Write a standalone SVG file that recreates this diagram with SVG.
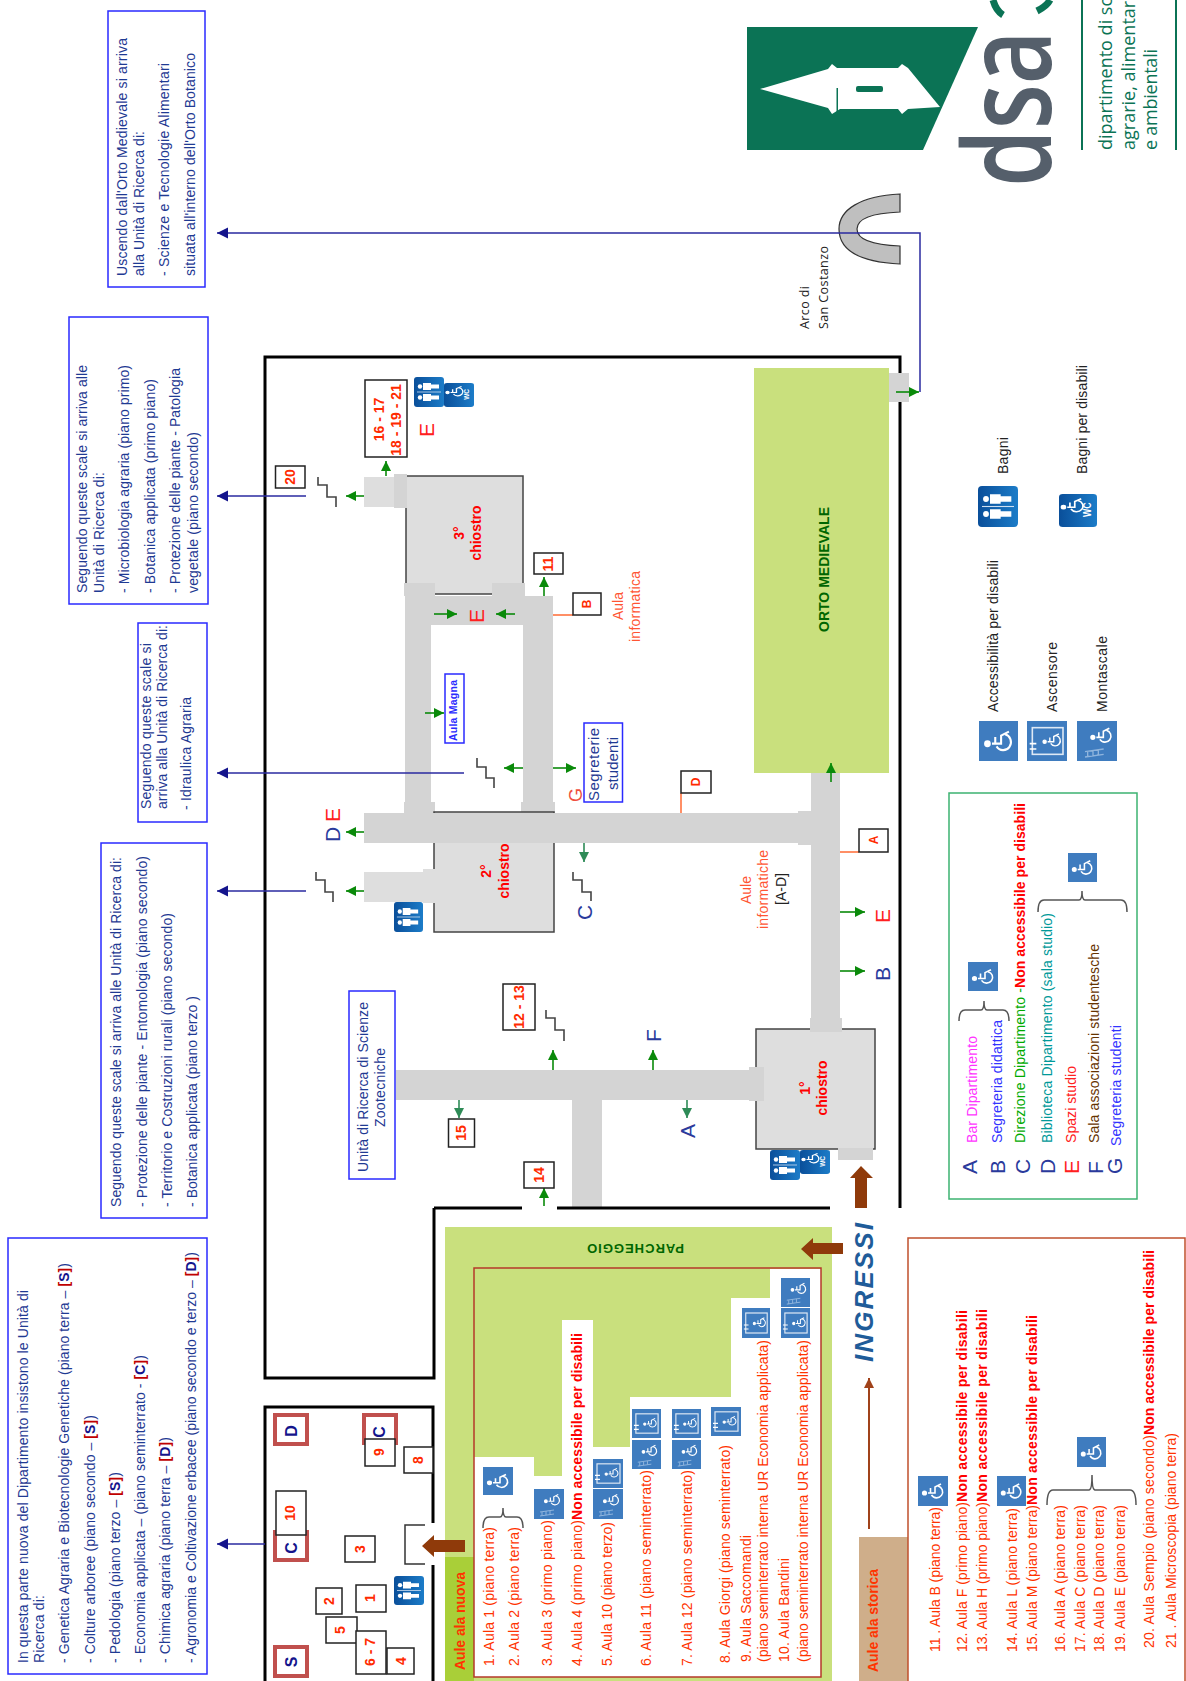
<svg xmlns="http://www.w3.org/2000/svg" xmlns:xlink="http://www.w3.org/1999/xlink" width="1186" height="1681" viewBox="0 0 1186 1681">
<style>
text{font-family:"Liberation Sans",Arial,sans-serif;font-size:14px;fill:#1f3a93}
.r{fill:#ff3300}.rb{fill:#ff0000;font-weight:bold}
.n{fill:#ff2a00;font-weight:bold;font-size:14px;text-anchor:middle}
.k{fill:#222}.L{font-size:21px;fill:#2a3a9c}.Lr{font-size:21px;fill:#ff2020}
.ch{fill:#ff0000;font-weight:bold;font-size:14px;text-anchor:middle}
.nv{fill:#14148c;font-weight:bold;font-size:16px;text-anchor:middle}
.wall{fill:none;stroke:#000;stroke-width:3}
.cor{fill:#d4d4d4}.lt{fill:#dedede}
.cl{fill:#dedede;stroke:#444;stroke-width:1.5}
.box{fill:#fff;stroke:#222;stroke-width:1.5}
.bb{fill:#fff;stroke:#2a2aff;stroke-width:1.5}
.rbx{fill:#fff;stroke:#c0504d;stroke-width:4}
.g{fill:none;stroke:#0a8a0a;stroke-width:1.6;marker-end:url(#mg)}
.t{fill:none;stroke:#2e8b57;stroke-width:1.6;marker-end:url(#mt)}
.nvl{fill:none;stroke:#2a2aa0;stroke-width:1.5;marker-end:url(#mn)}
.st{fill:none;stroke:#444;stroke-width:1.6}
.or{fill:none;stroke:#ff6a33;stroke-width:1.5}
.br{fill:none;stroke:#555;stroke-width:1.5}
.bar{fill:#8f3a0a}
.lg{fill:#0b7355}
.lt19{font-family:"Open Sans",sans-serif;font-size:18px;fill:#0b7355}
</style>
<defs>
<marker id="mg" markerUnits="userSpaceOnUse" markerWidth="12" markerHeight="12" refX="10" refY="6" orient="auto"><path d="M0,1 L10,6 L0,11 Z" fill="#0a8a0a"/></marker>
<marker id="mt" markerUnits="userSpaceOnUse" markerWidth="12" markerHeight="12" refX="10" refY="6" orient="auto"><path d="M0,1 L10,6 L0,11 Z" fill="#2e8b57"/></marker>
<marker id="mn" markerUnits="userSpaceOnUse" markerWidth="12" markerHeight="12" refX="11" refY="6" orient="auto"><path d="M0,0.5 L11,6 L0,11.5 Z" fill="#14148c"/></marker>
<marker id="mb" markerUnits="userSpaceOnUse" markerWidth="12" markerHeight="12" refX="10" refY="6" orient="auto"><path d="M0,1 L10,6 L0,11 Z" fill="#a0421a"/></marker>
<linearGradient id="bl" x1="0" y1="0" x2="1" y2="0"><stop offset="0" stop-color="#0a4f9a"/><stop offset="1" stop-color="#1c7cc8"/></linearGradient>
<g id="wh" fill="none" stroke="#fff" stroke-width="1.6"><circle cx="13" cy="6.5" r="1.8" fill="#fff"/><path d="M13,10 V17 H19 L22,23 M13,12.5 H18"/><path d="M11,13.5 A6,6 0 1 0 20,20"/></g>
<symbol id="iw" viewBox="0 0 30 30" preserveAspectRatio="none"><rect width="30" height="30" fill="#3f7cbf"/><g transform="rotate(-90 15 15)"><use xlink:href="#wh" href="#wh"/></g></symbol>
<symbol id="ia" viewBox="0 0 30 30" preserveAspectRatio="none"><rect width="30" height="30" fill="#3f7cbf"/><g transform="rotate(-90 15 15)"><rect x="5" y="4" width="20" height="23" fill="none" stroke="#dfe9f5" stroke-width="1.2"/><g transform="translate(6,9) scale(.65)"><use xlink:href="#wh" href="#wh"/></g><path d="M9,2 V7 M13,2 V7" stroke="#fff" stroke-width="1.2"/></g></symbol>
<symbol id="im" viewBox="0 0 30 30" preserveAspectRatio="none"><rect width="30" height="30" fill="#3f7cbf"/><g transform="rotate(-90 15 15)"><g transform="translate(8,7) scale(.75)"><use xlink:href="#wh" href="#wh"/></g><path d="M5,20 L3,6 M9,20 L7,6 M3,8 H7 M4,12 H8 M4.5,16 H8.5" stroke="#8fb4dd" stroke-width="1" fill="none"/></g></symbol>
<symbol id="ib" viewBox="0 0 30 30" preserveAspectRatio="none"><rect width="30" height="30" rx="3" fill="url(#bl)"/><g fill="#fff"><circle cx="6" cy="9.5" r="2.2"/><path d="M9,6 H17 V7.5 H25 V11.5 H17 V13 H9 Z"/><circle cx="6" cy="20.5" r="2.2"/><path d="M9,17 H17 V18.5 H25 V22.5 H17 V24 H9 Z"/></g><path d="M3,15 H27" stroke="#cfe0f2" stroke-width=".8"/></symbol>
<symbol id="id" viewBox="0 0 30 30" preserveAspectRatio="none"><rect width="30" height="30" rx="3" fill="url(#bl)"/><g transform="rotate(-90 15 15) translate(7,-2) scale(.85)"><use xlink:href="#wh" href="#wh"/></g><text transform="translate(25,21) rotate(-90)" style="fill:#fff;font-size:8px;font-weight:bold">WC</text></symbol>
</defs>
<rect width="1186" height="1681" fill="#fff"/>

<g id="logo">
<polygon class="lg" points="747,27 978,27 923,150 747,150"/>
<polygon fill="#fff" points="760,89 828,69 832,64 837,68 898,68 902,64 908,68 940,107 908,109 902,114 898,109 840,109 832,114 828,108"/>
<rect class="lg" x="856" y="86" width="27" height="6" rx="2"/>
<rect class="lg" x="836.5" y="88" width="1.5" height="24"/>
<text transform="translate(1051,187) rotate(-90) scale(.76,1)" style="font-family:'Open Sans',sans-serif;font-size:122px;fill:#555f6b;font-weight:600">dsa</text>
<path d="M993,0 C995,7 998,12 1003,15 M1037,11 C1043,8 1048,4 1050,0" fill="none" stroke="#0b7355" stroke-width="7"/>
<path d="M1082,0 V150 M1176,0 V150" stroke="#0b7355" stroke-width="2" fill="none"/>
<text class="lt19" transform="translate(1112,150) rotate(-90)">dipartimento di scienze</text>
<text class="lt19" transform="translate(1135,150) rotate(-90)">agrarie, alimentari</text>
<text class="lt19" transform="translate(1157,150) rotate(-90)" textLength="101">e ambientali</text>
</g>

<g id="orto">
<rect x="754" y="368" width="135" height="405" fill="#c9e07d"/>
<text transform="translate(829,632) rotate(-90)" textLength="125" style="fill:#006600;font-weight:bold;font-size:14px">ORTO MEDIEVALE</text>
</g>

<g id="corridors">
<rect class="cor" x="811" y="773" width="29" height="256"/>
<rect class="cor" x="810" y="1018" width="32" height="12"/>
<rect class="cor" x="364" y="813" width="447" height="30"/>
<rect class="cor" x="798" y="811" width="13" height="34"/>
<rect class="cor" x="405" y="583" width="26" height="230"/>
<rect class="cor" x="523" y="596" width="30" height="217"/>
<rect class="cor" x="405" y="596" width="148" height="29"/>
<rect class="cor" x="404" y="802" width="31" height="11"/>
<rect class="cor" x="521" y="802" width="34" height="11"/>
<rect class="cor" x="396" y="1070" width="360" height="30"/>
<rect class="cor" x="572" y="1100" width="30" height="108"/>
<rect class="cor" x="889" y="373" width="20" height="29"/>
<rect class="cor" x="838" y="1148" width="35" height="12"/>
<rect class="lt" x="364" y="477" width="30" height="30"/>
<rect class="lt" x="364" y="872" width="59" height="30"/>
</g>

<g id="chiostro-1"><rect class="cl" x="756" y="1029" width="119" height="120"/>
<rect class="cor" x="810" y="1025" width="32" height="7"/><rect class="cor" x="749" y="1067" width="15" height="34"/>
<text class="ch" transform="translate(810,1088) rotate(-90)">1°</text><text class="ch" transform="translate(827,1088) rotate(-90)">chiostro</text></g>
<g id="chiostro-2"><rect class="cl" x="434" y="812" width="120" height="120"/>
<rect class="cor" x="432" y="813" width="124" height="30"/>
<rect class="lt" x="423" y="869" width="15" height="34"/>
<text class="ch" transform="translate(491,871) rotate(-90)">2°</text><text class="ch" transform="translate(509,871) rotate(-90)">chiostro</text></g>
<g id="chiostro-3"><rect class="cl" x="406" y="476" width="117" height="118"/>
<rect class="cor" x="394" y="474" width="13" height="34"/>
<rect class="cor" x="404" y="583" width="31" height="13"/><rect class="cor" x="492" y="583" width="33" height="13"/>
<text class="ch" transform="translate(464,533) rotate(-90)">3°</text><text class="ch" transform="translate(481,533) rotate(-90)">chiostro</text></g>

<g id="walls">
<path class="wall" d="M434,1208 V1378 H265 V357 H900 V1208"/>
<path class="wall" d="M434,1208 H522 M557,1208 H830"/>
<path class="wall" d="M265,1681 V1407 H433 V1523 M433,1565 V1681"/>
<path d="M425,1525 H405 V1564 H425" fill="none" stroke="#333" stroke-width="1.5"/>
</g>
<rect class="cor" x="889" y="373" width="20" height="29"/>
<rect x="838" y="1148" width="35" height="12" class="cor"/>

<g id="parcheggio">
<path d="M445,1227 H832 V1681 H445 Z" fill="#c9e07d"/>
<rect x="445" y="1557" width="29" height="124" fill="#a9cf38"/>
<polygon fill="#fff" points="474,1457 534,1457 534,1476 562,1476 562,1320 593,1320 593,1447 630,1447 630,1397 731,1397 731,1298 770,1298 770,1269 821,1269 821,1677 474,1677"/>
<rect x="474" y="1268" width="347" height="409" fill="none" stroke="#b5392a" stroke-width="1.5"/>
<text transform="translate(684,1244) rotate(180)" textLength="97" style="fill:#006600;font-weight:bold;font-size:13px">PARCHEGGIO</text>
<text class="rb" transform="translate(465,1670) rotate(-90)" textLength="98" style="fill:#ff3300;font-size:14px">Aule ala nuova</text>
<g class="aule-n">
<text class="r" transform="translate(494,1666) rotate(-90)" textLength="139">1. Aula 1 (piano terra)</text>
<text class="r" transform="translate(519,1666) rotate(-90)" textLength="139">2. Aula 2 (piano terra)</text>
<text class="r" transform="translate(552,1666) rotate(-90)" textLength="146">3. Aula 3 (primo piano)</text>
<text class="r" transform="translate(582,1666) rotate(-90)" textLength="146">4. Aula 4 (primo piano)</text>
<text class="rb" transform="translate(582,1520) rotate(-90)" textLength="187">Non accessibile per disabili</text>
<text class="r" transform="translate(612,1666) rotate(-90)" textLength="144">5. Aula 10 (piano terzo)</text>
<text class="r" transform="translate(651,1666) rotate(-90)" textLength="196">6. Aula 11 (piano seminterrato)</text>
<text class="r" transform="translate(692,1666) rotate(-90)" textLength="196">7. Aula 12 (piano seminterrato)</text>
<text class="r" transform="translate(730,1663) rotate(-90)" textLength="218">8. Aula Giorgi (piano seminterrato)</text>
<text class="r" transform="translate(751,1662) rotate(-90)" textLength="127">9. Aula Saccomandi</text>
<text class="r" transform="translate(768,1662) rotate(-90)" textLength="322">(piano seminterrato interna UR Economia applicata)</text>
<text class="r" transform="translate(789,1662) rotate(-90)" textLength="104">10. Aula Bandini</text>
<text class="r" transform="translate(808,1662) rotate(-90)" textLength="322">(piano seminterrato interna UR Economia applicata)</text>
</g>
<use href="#iw" xlink:href="#iw" x="483" y="1467" width="30" height="28"/>
<path class="br" d="M483,1528 Q483,1517 489,1517 H500 Q503,1517 503,1508 Q503,1517 506,1517 H517 Q523,1517 523,1528"/>
<use href="#im" xlink:href="#im" x="534" y="1489" width="30" height="30"/>
<use href="#ia" xlink:href="#ia" x="593" y="1459" width="30" height="29"/>
<use href="#im" xlink:href="#im" x="593" y="1489" width="30" height="30"/>
<use href="#ia" xlink:href="#ia" x="632" y="1409" width="29" height="29"/>
<use href="#im" xlink:href="#im" x="632" y="1440" width="29" height="29"/>
<use href="#ia" xlink:href="#ia" x="672" y="1409" width="29" height="29"/>
<use href="#im" xlink:href="#im" x="672" y="1440" width="29" height="29"/>
<use href="#ia" xlink:href="#ia" x="711" y="1407" width="30" height="29"/>
<use href="#ia" xlink:href="#ia" x="742" y="1308" width="28" height="30"/>
<use href="#ia" xlink:href="#ia" x="781" y="1308" width="29" height="30"/>
<use href="#im" xlink:href="#im" x="781" y="1278" width="29" height="29"/>
</g>

<g id="aule-storica">
<rect x="859" y="1537" width="49" height="144" fill="#cfae8a"/>
<path d="M908,1681 V1238 H1185 V1681" fill="none" stroke="#c0502d" stroke-width="1.5"/>
<text class="rb" transform="translate(878,1672) rotate(-90)" textLength="103" style="fill:#ff3300;font-size:14px">Aule ala storica</text>
<text class="r" transform="translate(940,1652) rotate(-90)" textLength="145">11 . Aula B (piano terra)</text>
<text class="r" transform="translate(967,1652) rotate(-90)" textLength="150">12. Aula F (primo piano)</text>
<text class="rb" transform="translate(967,1502) rotate(-90)" textLength="192">Non accessibile per disabili</text>
<text class="r" transform="translate(987,1652) rotate(-90)" textLength="150">13. Aula H (primo piano)</text>
<text class="rb" transform="translate(987,1502) rotate(-90)" textLength="193">Non accessibile per disabili</text>
<text class="r" transform="translate(1017,1652) rotate(-90)" textLength="144">14. Aula L (piano terra)</text>
<text class="r" transform="translate(1037,1652) rotate(-90)" textLength="147">15. Aula M (piano terra)</text>
<text class="rb" transform="translate(1037,1505) rotate(-90)" textLength="190">Non accessibile per disabili</text>
<text class="r" transform="translate(1065,1652) rotate(-90)" textLength="147">16. Aula A (piano terra)</text>
<text class="r" transform="translate(1085,1652) rotate(-90)" textLength="147">17. Aula C (piano terra)</text>
<text class="r" transform="translate(1104,1652) rotate(-90)" textLength="147">18. Aula D (piano terra)</text>
<text class="r" transform="translate(1125,1652) rotate(-90)" textLength="147">19. Aula E (piano terra)</text>
<text class="r" transform="translate(1154,1648) rotate(-90)" textLength="213">20. Aula Sempio (piano secondo)</text>
<text class="rb" transform="translate(1154,1435) rotate(-90)" textLength="185">Non accessibile per disabili</text>
<text class="r" transform="translate(1176,1648) rotate(-90)" textLength="215">21 . Aula Microscopia (piano terra)</text>
<use href="#iw" xlink:href="#iw" x="918" y="1476" width="30" height="30"/>
<use href="#iw" xlink:href="#iw" x="997" y="1476" width="29" height="30"/>
<use href="#iw" xlink:href="#iw" x="1077" y="1437" width="29" height="30"/>
<path class="br" d="M1047,1505 Q1047,1490 1053,1490 H1089 Q1092,1490 1092,1475 Q1092,1490 1095,1490 H1130 Q1136,1490 1136,1505"/>
</g>

<g id="ingressi">
<polygon class="bar" points="422,1546 434,1535 434,1540 465,1540 465,1552 434,1552 434,1557"/>
<polygon class="bar" points="801,1249 813,1238 813,1243 843,1243 843,1254 813,1254 813,1260"/>
<polygon class="bar" points="861,1166 873,1178 867,1178 867,1208 855,1208 855,1178 850,1178"/>
<text transform="translate(873,1362) rotate(-90)" textLength="139" style="fill:#1f5c99;font-style:italic;font-weight:bold;font-size:26px">INGRESSI</text>
</g>

<g id="legenda">
<rect x="949" y="793" width="188" height="406" fill="#fff" stroke="#3cb371" stroke-width="1.5"/>
<text class="L" transform="translate(977,1174) rotate(-90)">A</text>
<text class="L" transform="translate(1005,1174) rotate(-90)">B</text>
<text class="L" transform="translate(1030,1174) rotate(-90)">C</text>
<text class="L" transform="translate(1055,1174) rotate(-90)">D</text>
<text class="Lr" transform="translate(1079,1174) rotate(-90)">E</text>
<text class="L" transform="translate(1103,1174) rotate(-90)">F</text>
<text class="L" transform="translate(1122,1174) rotate(-90)">G</text>
<text transform="translate(977,1143) rotate(-90)" textLength="107" style="fill:#ff33ff">Bar Dipartimento</text>
<text transform="translate(1002,1143) rotate(-90)" textLength="123" style="fill:#3333ff">Segreteria didattica</text>
<text transform="translate(1025,1143) rotate(-90)" textLength="155" style="fill:#00aa00">Direzione Dipartimento -</text>
<text class="rb" transform="translate(1025,988) rotate(-90)" textLength="185">Non accessibile per disabili</text>
<text transform="translate(1052,1143) rotate(-90)" textLength="230" style="fill:#009999">Biblioteca Dipartimento (sala studio)</text>
<text transform="translate(1076,1143) rotate(-90)" textLength="77" style="fill:#ff2020">Spazi studio</text>
<text transform="translate(1099,1143) rotate(-90)" textLength="199" style="fill:#663300">Sala associazioni  studentesche</text>
<text transform="translate(1121,1146) rotate(-90)" textLength="121" style="fill:#3333ff">Segreteria studenti</text>
<use href="#iw" xlink:href="#iw" x="968" y="962" width="30" height="29"/>
<path class="br" d="M959,1021 Q959,1010 965,1010 H981 Q984,1010 984,1001 Q984,1010 987,1010 H1003 Q1009,1010 1009,1021"/>
<use href="#iw" xlink:href="#iw" x="1068" y="853" width="29" height="29"/>
<path class="br" d="M1038,912 Q1038,900 1044,900 H1079 Q1082,900 1082,891 Q1082,900 1085,900 H1121 Q1127,900 1127,912"/>
</g>

<g id="simboli">
<use href="#iw" xlink:href="#iw" x="979" y="721" width="39" height="40"/>
<use href="#ia" xlink:href="#ia" x="1027" y="721" width="40" height="40"/>
<use href="#im" xlink:href="#im" x="1077" y="721" width="40" height="40"/>
<use href="#ib" xlink:href="#ib" x="978" y="486" width="40" height="41"/>
<use href="#id" xlink:href="#id" x="1059" y="494" width="38" height="33"/>
<text class="k" transform="translate(998,712) rotate(-90)" textLength="152">Accessibilità per disabili</text>
<text class="k" transform="translate(1057,712) rotate(-90)" textLength="70">Ascensore</text>
<text class="k" transform="translate(1107,712) rotate(-90)" textLength="76">Montascale</text>
<text class="k" transform="translate(1008,474) rotate(-90)" textLength="37">Bagni</text>
<text class="k" transform="translate(1087,474) rotate(-90)" textLength="109">Bagni per disabili</text>
</g>

<g id="arco">
<path d="M900,194 C860,196 839,210 839,229 C839,250 860,262 900,264 L900,246 C875,245 857,240 857,229 C857,218 875,213 900,212 Z" fill="#bfbfbf" stroke="#333" stroke-width="1.2"/>
<text transform="translate(809,329) rotate(-90)" style="fill:#222;font-family:'Open Sans',sans-serif;font-size:12.5px" textLength="43">Arco di</text>
<text transform="translate(828,329) rotate(-90)" style="fill:#222;font-family:'Open Sans',sans-serif;font-size:12.5px" textLength="83">San Costanzo</text>
</g>

<g id="connectors">
<path class="nvl" d="M920,392 V233 H217"/>
<path class="nvl" d="M265,1544 H217"/>
<path class="nvl" d="M306,891 H217"/>
<path class="nvl" d="M306,496 H217"/>
<path class="nvl" d="M464,773 H217"/>
<path d="M869,1529 V1378" fill="none" stroke="#a0421a" stroke-width="2" marker-end="url(#mb)"/>
<path class="g" d="M896,392 H919"/>
<path class="g" d="M831,782 V763"/>
<path class="g" d="M840,912 H865"/>
<path class="g" d="M840,971 H865"/>
<path class="g" d="M553,1070 V1050"/>
<path class="g" d="M653,1070 V1050"/>
<path class="t" d="M687,1100 V1118"/>
<path class="t" d="M459,1100 V1118"/>
<path class="t" d="M584,843 V862"/>
<path class="g" d="M544,1206 V1188"/>
<path class="g" d="M364,891 H346"/>
<path class="g" d="M364,832 H346"/>
<path class="g" d="M364,496 H346"/>
<path class="g" d="M386,476 V461"/>
<path class="g" d="M544,596 V577"/>
<path class="g" d="M434,614 H457"/>
<path class="g" d="M515,614 H496"/>
<path class="g" d="M425,713 H444"/>
<path class="g" d="M523,768 H504"/>
<path class="g" d="M553,768 H576"/>
<path class="or" d="M681,793 V813"/>
<path class="or" d="M840,852 H859"/>
<path class="or" d="M553,615 H573"/>
<path class="st" d="M318,477 V485 H327 V497 H336 V507"/>
<path class="st" d="M316,872 V880 H325 V892 H333 V902"/>
<path class="st" d="M477,758 V767 H486 V778 H494 V788"/>
<path class="st" d="M573,872 V880 H582 V892 H591 V901"/>
<path class="st" d="M546,1010 V1018 H555 V1030 H564 V1041"/>
</g>

<g id="etichette">
<text class="L" transform="translate(340,842) rotate(-90)">D</text>
<text class="Lr" transform="translate(340,822) rotate(-90)">E</text>
<text class="L" transform="translate(592,920) rotate(-90)">C</text>
<text class="L" transform="translate(661,1042) rotate(-90)">F</text>
<text class="L" transform="translate(695,1138) rotate(-90)">A</text>
<text class="Lr" transform="translate(890,923) rotate(-90)">E</text>
<text class="L" transform="translate(890,981) rotate(-90)">B</text>
<text class="Lr" transform="translate(434,437) rotate(-90)">E</text>
<text class="Lr" transform="translate(484,623) rotate(-90)">E</text>
<text transform="translate(582,802) rotate(-90)" style="fill:#f05040;font-size:18px">G</text>
<text class="r" transform="translate(751,904) rotate(-90)" style="fill:#ff5533" textLength="28">Aule</text>
<text class="r" transform="translate(767.5,929) rotate(-90)" style="fill:#ff5533" textLength="79">informatiche</text>
<text class="k" transform="translate(786,905) rotate(-90)" textLength="32">[A-D]</text>
<text class="r" transform="translate(622.5,620) rotate(-90)" style="fill:#ff5533" textLength="28">Aula</text>
<text class="r" transform="translate(640,642) rotate(-90)" style="fill:#ff5533" textLength="71">informatica</text>
</g>

<g id="box-unita-nuova"><rect class="bb" x="8" y="1238" width="199" height="436"/>
<text transform="translate(28,1663) rotate(-90)" textLength="373">In questa parte nuova del Dipartimento insistono le Unità di</text>
<text transform="translate(44,1663) rotate(-90)" textLength="68">Ricerca di:</text>
<text transform="translate(69,1663) rotate(-90)" textLength="400">- Genetica Agraria e Biotecnologie Genetiche (piano terra – <tspan style="font-weight:bold;fill:#c00000">[</tspan><tspan style="font-weight:bold;fill:#14148c">S</tspan><tspan style="font-weight:bold;fill:#c00000">]</tspan>)</text>
<text transform="translate(95,1663) rotate(-90)" textLength="248">- Colture arboree (piano secondo – <tspan style="font-weight:bold;fill:#c00000">[</tspan><tspan style="font-weight:bold;fill:#14148c">S</tspan><tspan style="font-weight:bold;fill:#c00000">]</tspan>)</text>
<text transform="translate(120,1663) rotate(-90)" textLength="191">- Pedologia (piano terzo – <tspan style="font-weight:bold;fill:#c00000">[</tspan><tspan style="font-weight:bold;fill:#14148c">S</tspan><tspan style="font-weight:bold;fill:#c00000">]</tspan>)</text>
<text transform="translate(145,1663) rotate(-90)" textLength="308">- Economia applicata – (piano seminterrato - <tspan style="font-weight:bold;fill:#c00000">[</tspan><tspan style="font-weight:bold;fill:#14148c">C</tspan><tspan style="font-weight:bold;fill:#c00000">]</tspan>)</text>
<text transform="translate(170,1663) rotate(-90)" textLength="226">- Chimica agraria (piano terra – <tspan style="font-weight:bold;fill:#c00000">[</tspan><tspan style="font-weight:bold;fill:#14148c">D</tspan><tspan style="font-weight:bold;fill:#c00000">]</tspan>)</text>
<text transform="translate(196,1663) rotate(-90)" textLength="411">- Agronomia e Coltivazione erbacee (piano secondo e terzo – <tspan style="font-weight:bold;fill:#c00000">[</tspan><tspan style="font-weight:bold;fill:#14148c">D</tspan><tspan style="font-weight:bold;fill:#c00000">]</tspan>)</text>
</g>
<g id="box-orto-botanico"><rect class="bb" x="108" y="11" width="97" height="276"/>
<text transform="translate(127,276) rotate(-90)" textLength="238">Uscendo dall'Orto Medievale si arriva</text>
<text transform="translate(144,276) rotate(-90)" textLength="145">alla Unità di Ricerca di:</text>
<text transform="translate(169,276) rotate(-90)" textLength="213">- Scienze e Tecnologie Alimentari</text>
<text transform="translate(195,276) rotate(-90)" textLength="223">situata all'interno dell'Orto Botanico</text>
</g>
<g id="box-scale-3"><rect class="bb" x="69" y="317" width="139" height="287"/>
<text transform="translate(87,593) rotate(-90)" textLength="228">Seguendo queste scale si arriva alle</text>
<text transform="translate(104,593) rotate(-90)" textLength="121">Unità di Ricerca di:</text>
<text transform="translate(129,593) rotate(-90)" textLength="228">- Microbiologia agraria (piano primo)</text>
<text transform="translate(155,593) rotate(-90)" textLength="214">- Botanica applicata (primo piano)</text>
<text transform="translate(180,593) rotate(-90)" textLength="225">- Protezione delle piante - Patologia</text>
<text transform="translate(198,593) rotate(-90)" textLength="161">vegetale (piano secondo)</text>
</g>
<g id="box-idraulica"><rect class="bb" x="138" y="623" width="69" height="199"/>
<text transform="translate(151,809) rotate(-90)" textLength="166">Seguendo queste scale  si</text>
<text transform="translate(167,809) rotate(-90)" textLength="184">arriva alla Unità di Ricerca di:</text>
<text transform="translate(191,810) rotate(-90)" textLength="113">- Idraulica Agraria</text>
</g>
<g id="box-scale-2"><rect class="bb" x="101" y="843" width="106" height="375"/>
<text transform="translate(121,1207) rotate(-90)" textLength="350">Seguendo queste scale si arriva alle Unità di Ricerca di:</text>
<text transform="translate(147,1207) rotate(-90)" textLength="351">- Protezione delle piante - Entomologia (piano secondo)</text>
<text transform="translate(172,1207) rotate(-90)" textLength="294">- Territorio e Costruzioni rurali (piano secondo)</text>
<text transform="translate(197,1207) rotate(-90)" textLength="211">- Botanica applicata (piano terzo )</text>
</g>
<g id="box-zootecniche"><rect class="bb" x="349" y="991" width="46" height="188"/>
<text transform="translate(368,1172) rotate(-90)" textLength="170">Unità di Ricerca di Scienze</text>
<text transform="translate(385,1127) rotate(-90)" textLength="79">Zootecniche</text>
</g>
<g id="box-aula-magna"><rect class="bb" x="445" y="674" width="19" height="69"/>
<text transform="translate(457,741) rotate(-90)" textLength="61" style="font-size:10.5px;font-weight:bold;fill:#2a2aff">Aula Magna</text>
</g>
<g id="box-segreterie"><rect class="bb" x="584" y="723" width="38.5" height="79"/>
<text transform="translate(598.5,801) rotate(-90)" textLength="73" style="font-size:15px">Segreterie</text>
<text transform="translate(617.5,790) rotate(-90)" textLength="53" style="font-size:15px">studenti</text>
</g>

<g id="numeri">
<g><rect class="box" x="448.5" y="1119" width="26" height="28"/><text class="n" transform="translate(466,1133) rotate(-90)">15</text></g>
<g><rect class="box" x="524" y="1162" width="30" height="26"/><text class="n" transform="translate(544,1175) rotate(-90)">14</text></g>
<g><rect class="box" x="503" y="984" width="32" height="46"/><text class="n" transform="translate(524,1007) rotate(-90)">12 - 13</text></g>
<g><rect class="box" x="681" y="771" width="30" height="22"/><text class="n" style="font-size:12px" transform="translate(700,782) rotate(-90)">D</text></g>
<g><rect class="box" x="859" y="829" width="29" height="23"/><text class="n" style="font-size:12px" transform="translate(878,840) rotate(-90)">A</text></g>
<g><rect class="box" x="573" y="593" width="28" height="22"/><text class="n" style="font-size:12px" transform="translate(591,604) rotate(-90)">B</text></g>
<g><rect class="box" x="534" y="553" width="29" height="21"/><text class="n" transform="translate(553,564) rotate(-90)">11</text></g>
<g><rect class="box" x="275.5" y="466" width="29.5" height="22"/><text class="n" transform="translate(295,477) rotate(-90)">20</text></g>
<g><rect class="box" x="365" y="380" width="42" height="77"/>
<text class="n" transform="translate(384,419.5) rotate(-90)">16 - 17</text><text class="n" transform="translate(401,420) rotate(-90)">18 - 19 - 21</text></g>
<g><rect class="rbx" x="275" y="1647" width="32" height="29"/><text class="nv" transform="translate(297,1662) rotate(-90)">S</text></g>
<g><rect class="rbx" x="275" y="1415" width="32" height="29"/><text class="nv" transform="translate(297,1431) rotate(-90)">D</text></g>
<g><rect class="rbx" x="275" y="1532" width="32" height="28"/><text class="nv" transform="translate(297,1548) rotate(-90)">C</text></g>
<g><rect class="rbx" x="364" y="1415" width="32" height="28"/><text class="nv" transform="translate(385,1432) rotate(-90)">C</text></g>
<g><rect class="box" x="276" y="1491" width="30" height="44"/><text class="n" transform="translate(295,1513) rotate(-90)">10</text></g>
<g><rect class="box" x="365" y="1439" width="30" height="27"/><text class="n" transform="translate(384,1452) rotate(-90)">9</text></g>
<g><rect class="box" x="404" y="1447" width="29" height="26"/><text class="n" transform="translate(423,1460) rotate(-90)">8</text></g>
<g><rect class="box" x="345" y="1536" width="30" height="26"/><text class="n" transform="translate(365,1549) rotate(-90)">3</text></g>
<g><rect class="box" x="356" y="1585" width="30" height="27"/><text class="n" transform="translate(375,1598) rotate(-90)">1</text></g>
<g><rect class="box" x="316" y="1588" width="26" height="26"/><text class="n" transform="translate(334,1601) rotate(-90)">2</text></g>
<g><rect class="box" x="326" y="1617" width="31" height="26"/><text class="n" transform="translate(345,1630) rotate(-90)">5</text></g>
<g><rect class="box" x="356" y="1631" width="30" height="43"/><text class="n" transform="translate(375,1652) rotate(-90)">6 - 7</text></g>
<g><rect class="box" x="387" y="1648" width="27" height="26"/><text class="n" transform="translate(406,1661) rotate(-90)">4</text></g>
</g>

<g id="bagni">
<use href="#ib" xlink:href="#ib" x="394" y="1576" width="30" height="29"/>
<use href="#ib" xlink:href="#ib" x="394" y="902" width="29" height="30"/>
<use href="#ib" xlink:href="#ib" x="770" y="1150" width="30" height="30"/>
<use href="#id" xlink:href="#id" x="800" y="1150" width="30" height="24"/>
<use href="#ib" xlink:href="#ib" x="414" y="377" width="30" height="30"/>
<use href="#id" xlink:href="#id" x="444" y="383" width="30" height="24"/>
</g>
</svg>
